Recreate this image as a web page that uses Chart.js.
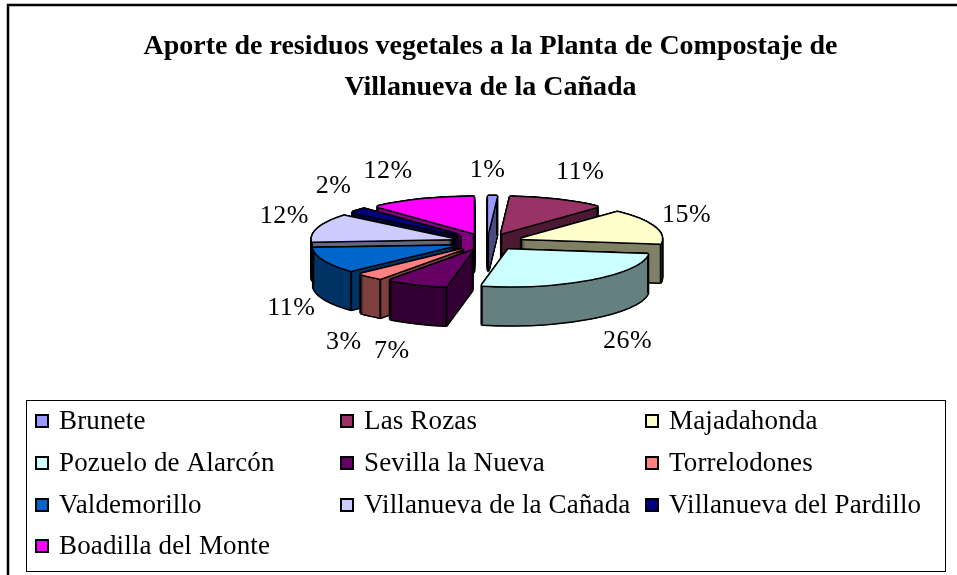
<!DOCTYPE html>
<html><head><meta charset="utf-8">
<style>html,body{margin:0;padding:0;background:#fff;overflow:hidden}canvas{display:block}</style>
<script src="https://cdn.jsdelivr.net/npm/chart.js@4"></script>
</head><body><canvas id="c" width="957" height="575"></canvas>
<script>
const titleLines = ['Aporte de residuos vegetales a la Planta de Compostaje de', 'Villanueva de la Cañada'];
const municipalities = ['Brunete','Las Rozas','Majadahonda','Pozuelo de Alarcón','Sevilla la Nueva','Torrelodones','Valdemorillo','Villanueva de la Cañada','Villanueva del Pardillo','Boadilla del Monte'];
const shares = [1,11,15,26,7,3,11,12,2,12];
const topColors = ['#9999ff','#993366','#ffffcc','#ccffff','#660066','#ff8080','#0066cc','#ccccff','#000080','#ff00ff'];
const sideColors = ['#4d4d80','#4d1a33','#808066','#668080','#330033','#804040','#003366','#666680','#000040','#800080'];
const labelNudge = [[-6,4],[9,0],[0,-1],[16,7],[-11,5],[-3,15],[-1,21],[-1,-2],[1,-4],[-21,0]];

const PIE = {cx:487, cy:242, k:0.26, explode:36, depth:39, outline:1.5};
const LABEL = {rx:212, back:76, front:114};
const LEG = {x:26, y:400, w:919, h:171, cols:[36,341,646], rows:[421,463,505,546], sw:12, gap:11};

const pie3d = {
  id:'pie3d',
  beforeDraw(chart){
    const c = chart.ctx;
    c.save();
    c.fillStyle='#fff'; c.fillRect(0,0,chart.width,chart.height);
    c.strokeStyle='#000'; c.lineWidth=2.5;
    c.beginPath(); c.moveTo(8,chart.height); c.lineTo(8,5); c.lineTo(chart.width,5); c.stroke();
    c.restore();
  },
  beforeDatasetsDraw(chart){
    const c = chart.ctx, arcs = chart.getDatasetMeta(0).data;
    const mid = a => (a.startAngle+a.endAngle)/2;
    const paint = (a,color,dx,dy) => {
      const m = mid(a), saved = a.options;
      a.options = {backgroundColor:color,borderColor:color,borderWidth:0,offset:0,spacing:0,circular:true,borderAlign:'center',borderDash:[],borderDashOffset:0,borderJoinStyle:'round'};
      c.save();
      c.translate(PIE.cx+Math.cos(m)*PIE.explode+dx, PIE.cy+Math.sin(m)*PIE.explode*PIE.k+dy);
      c.scale(1,PIE.k);
      c.translate(-a.x,-a.y);
      a.draw(c);
      c.restore();
      a.options = saved;
    };
    const o = PIE.outline;
    const ring = [[o,0],[-o,0],[0,o],[0,-o],[o*.7,o*.7],[-o*.7,o*.7],[o*.7,-o*.7],[-o*.7,-o*.7]];
    const order = arcs.map((a,i)=>i).sort((p,q)=>Math.sin(mid(arcs[p]))-Math.sin(mid(arcs[q])));
    order.forEach(i=>{
      const a = arcs[i], m = mid(a), R = a.outerRadius;
      const ax = PIE.cx+Math.cos(m)*PIE.explode, ay = PIE.cy+Math.sin(m)*PIE.explode*PIE.k;
      for(let d=PIE.depth;d>=0;d-=1){ ring.forEach(r=>paint(a,'#000',r[0],r[1]+d)); }
      for(let d=PIE.depth;d>=1;d-=1){ paint(a,sideColors[i],0,d); }
      const inFace = (x,y)=>{
        const dx=x-ax, dy=(y-ay)/PIE.k;
        if(Math.hypot(dx,dy)>=R) return false;
        let t=Math.atan2(dy,dx); while(t<a.startAngle) t+=Math.PI*2;
        return t<=a.endAngle;
      };
      const corners=[[ax,ay],[ax+Math.cos(a.startAngle)*R,ay+Math.sin(a.startAngle)*R*PIE.k],[ax+Math.cos(a.endAngle)*R,ay+Math.sin(a.endAngle)*R*PIE.k]];
      c.save(); c.strokeStyle='#000'; c.lineWidth=2;
      corners.forEach(p=>{
        if(!inFace(p[0],p[1]+3)&&!inFace(p[0]+0.5,p[1]+3)&&!inFace(p[0]-0.5,p[1]+3)){
          c.beginPath(); c.moveTo(p[0],p[1]); c.lineTo(p[0],p[1]+PIE.depth); c.stroke();
        }
      });
      c.restore();
      ring.forEach(r=>paint(a,'#000',r[0],r[1]));
      paint(a,topColors[i],0,0);
    });
    return false;
  },
  afterDraw(chart){
    const c = chart.ctx, arcs = chart.getDatasetMeta(0).data;
    c.save();
    c.fillStyle='#000'; c.textBaseline='middle'; c.textAlign='center';
    c.font='26px "Liberation Serif"'; c.letterSpacing='0.5px';
    arcs.forEach((a,i)=>{
      const m=(a.startAngle+a.endAngle)/2, s=Math.sin(m);
      const ry = s<0 ? LABEL.back : LABEL.front;
      c.fillText(shares[i]+'%', PIE.cx+Math.cos(m)*LABEL.rx+labelNudge[i][0], PIE.cy+s*ry+labelNudge[i][1]);
    });
    c.textAlign='left'; c.strokeStyle='#000';
    c.font='27px "Liberation Serif"'; c.letterSpacing='0.15px';
    c.lineWidth=1; c.strokeRect(LEG.x+.5,LEG.y+.5,LEG.w,LEG.h);
    municipalities.forEach((name,i)=>{
      const x=LEG.cols[i%3], y=LEG.rows[Math.floor(i/3)];
      c.fillStyle=topColors[i]; c.fillRect(x,y-LEG.sw/2,LEG.sw,LEG.sw);
      c.lineWidth=2; c.strokeRect(x,y-LEG.sw/2,LEG.sw,LEG.sw);
      c.fillStyle='#000'; c.fillText(name,x+LEG.sw+LEG.gap,y+1);
    });
    c.restore();
  }
};

new Chart(document.getElementById('c'),{
  type:'pie',
  data:{labels:municipalities,datasets:[{data:shares,backgroundColor:topColors,borderWidth:0,radius:141}]},
  options:{
    responsive:false,animation:false,
    layout:{padding:{left:24}},
    plugins:{
      legend:{display:false},tooltip:{enabled:false},
      title:{display:true,text:titleLines,color:'#000',padding:{top:26,bottom:4},
        font:{family:'"Liberation Serif"',size:28,weight:'bold',lineHeight:41/28}}
    }
  },
  plugins:[pie3d]
});
</script></body></html>
